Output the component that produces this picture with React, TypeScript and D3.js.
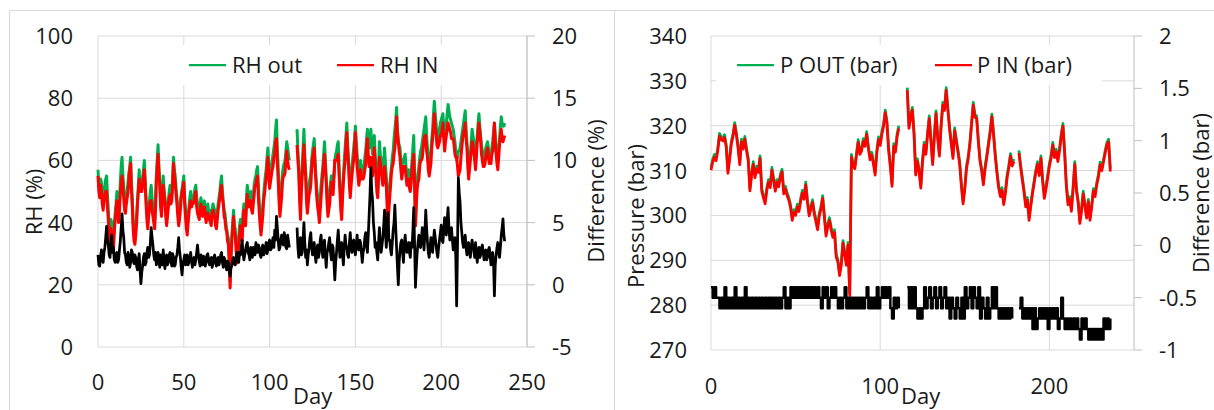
import React from "react";
import * as d3 from "d3";

// ---------- Left panel data: two readings per day (A at day, B at day + 0.5) ----------
const rhOut: (number | null)[] = [
  57,50,53,46,52,55,44,36,40,34,
  43,50,42,53,61,52,45,50,56,61,
  48,36,38,47,57,50,54,60,48,41,
  47,52,45,40,55,65,53,44,55,48,
  41,47,52,49,61,55,48,43,46,51,
  55,44,38,45,50,47,49,52,46,43,
  48,44,47,42,46,44,41,46,44,40,
  46,50,55,47,43,38,35,21,36,44,
  38,30,35,41,38,46,42,52,47,50,
  45,52,55,58,46,38,45,52,57,64,
  55,58,62,66,73,58,45,52,58,60,
  66,62,null,null,null,null,70,58,45,58,
  70,57,45,52,56,63,67,55,48,43,
  52,58,66,54,45,50,55,52,60,63,
  66,52,44,55,64,72,60,52,58,64,
  71,62,55,60,56,58,63,70,64,70,
  62,68,58,50,66,60,56,64,55,44,
  52,58,63,70,77,66,64,58,60,62,
  55,57,52,60,68,39,54,58,63,66,
  70,74,64,57,63,70,79,72,66,70,
  73,75,68,72,78,74,72,70,66,60,
  63,64,68,72,76,66,57,62,70,66,
  60,68,75,68,63,60,64,66,62,61,
  66,72,64,60,67,74,71,72,
];
const rhOutB: (number | null)[] = [
  52,54,48,50,54,49,39,41,35,39,
  46,45,47,58,55,47,48,53,58,53,
  40,35,42,52,52,51,57,54,44,44,
  50,48,42,47,60,58,47,50,51,44,
  44,50,48,55,57,51,45,44,49,53,
  48,40,42,48,47,48,51,48,44,46,
  45,46,44,45,43,42,44,45,41,43,
  48,53,50,44,40,36,28,30,40,39,
  33,32,39,39,43,44,48,49,49,47,
  49,54,57,51,41,42,49,55,61,59,
  56,60,64,70,64,50,49,56,59,63,
  64,60,null,null,null,null,63,50,52,64,
  62,50,48,54,60,65,60,51,45,48,
  55,62,60,49,47,53,54,56,62,65,
  58,47,50,60,68,65,55,55,61,67,
  66,58,58,57,57,61,67,66,67,65,
  65,62,53,58,62,57,60,59,49,48,
  55,61,67,73,70,65,60,59,61,58,
  56,54,56,64,55,47,56,61,64,68,
  72,68,60,60,67,75,75,68,68,72,
  74,71,70,75,76,73,71,68,63,61,
  63,66,70,74,70,61,60,66,68,62,
  64,72,71,65,61,62,65,64,61,64,
  69,68,62,64,71,72,71,null,
];

const rhIn: (number | null)[] = [
  55,48,50,44,49,50,41,34,36,31,
  41,47,40,49,55,48,43,48,54,59,
  45,34,36,46,54,50,52,57,46,38,
  45,47,42,38,53,62,52,42,52,47,
  39,45,49,47,59,53,46,39,44,50,
  53,42,36,43,47,46,47,50,43,41,
  46,42,45,40,43,42,39,44,42,38,
  44,48,52,46,41,37,33,19,34,42,
  36,27,33,39,34,44,39,49,45,47,
  43,49,52,55,43,36,42,49,54,61,
  51,55,58,62,67,54,42,48,55,56,
  63,58,null,null,null,null,65,56,41,55,
  65,55,43,49,52,61,64,53,45,40,
  48,56,62,53,42,46,53,49,60,60,
  62,50,41,53,60,69,58,48,55,60,
  69,58,52,57,54,55,59,67,58,61,
  55,64,55,48,61,57,52,58,52,38,
  48,56,59,64,74,66,61,54,58,58,
  52,54,50,57,62,39,51,54,60,61,
  67,68,61,55,59,67,75,69,64,66,
  68,72,63,68,72,70,67,67,62,61,
  55,57,64,69,72,64,54,60,66,63,
  57,66,72,66,60,58,61,64,59,59,
  63,72,62,57,65,70,66,68,
];
const rhInB: (number | null)[] = [
  50,52,46,47,50,45,37,38,32,37,
  44,43,44,53,51,44,46,50,57,50,
  38,33,40,50,51,50,55,52,41,42,
  47,44,40,44,58,56,45,48,49,42,
  42,48,46,52,55,49,42,41,48,51,
  46,38,40,46,45,46,49,45,42,44,
  43,44,42,43,41,40,43,43,39,41,
  46,51,48,42,38,34,27,29,38,37,
  31,30,36,36,40,42,45,46,47,44,
  46,52,54,48,39,39,47,52,58,56,
  53,57,61,66,59,47,45,53,55,60,
  60,57,null,null,null,null,60,47,50,60,
  59,47,46,50,57,62,58,48,43,44,
  52,59,58,46,44,50,51,54,60,61,
  55,44,48,57,65,63,52,52,58,64,
  63,55,54,54,54,57,64,62,60,57,
  60,59,50,55,59,54,55,55,45,44,
  52,58,62,68,69,63,57,56,58,55,
  53,51,53,60,52,46,53,58,60,64,
  68,63,57,57,64,71,71,65,65,68,
  70,67,66,70,71,69,67,65,61,58,
  56,61,67,70,67,58,57,63,65,60,
  61,69,69,62,58,59,63,61,59,62,
  67,66,59,61,68,67,67,null,
];

const rhDiff: (number | null)[] = [
  2.4,1.5,2.8,1.8,3.0,4.7,3.2,2.2,4.0,3.0,
  1.8,2.6,2.0,3.5,5.7,3.8,2.4,1.6,2.2,1.8,
  2.6,1.7,2.2,1.2,2.5,0.1,1.5,2.5,1.8,3.0,
  2.4,4.6,3.2,2.0,1.6,2.6,1.4,2.2,2.8,1.3,
  2.4,1.8,2.6,1.5,2.2,1.6,2.4,3.8,2.2,0.8,
  2.0,1.6,2.4,1.8,2.6,1.4,2.2,2.0,3.2,1.9,
  2.4,1.6,2.2,1.8,2.5,1.6,2.2,1.7,2.4,1.5,
  2.2,1.9,2.6,1.4,2.0,1.2,1.8,0.7,1.5,2.2,
  1.6,2.6,1.8,2.4,3.6,2.0,2.8,3.4,2.4,3.0,
  2.2,2.8,3.4,2.6,3.0,2.2,3.2,2.6,3.4,2.8,
  3.6,2.9,3.8,4.4,5.5,3.6,3.0,4.0,3.2,3.8,
  2.9,3.5,null,null,null,null,4.6,2.2,3.8,2.6,
  5.0,2.2,1.6,3.0,4.2,2.4,3.4,1.8,3.2,2.6,
  4.0,2.2,3.6,1.4,2.8,3.8,2.0,3.0,0.4,2.6,
  4.4,2.2,3.4,1.6,4.0,3.0,2.2,4.2,2.6,3.6,
  2.4,4.0,2.8,3.4,1.8,3.0,4.2,2.6,5.6,9.4,
  6.8,4.2,3.4,2.0,4.6,2.6,3.8,6.0,3.0,5.8,
  3.6,2.4,4.4,6.4,3.0,0.0,2.8,3.6,1.8,4.0,
  2.6,3.4,2.2,3.0,6.2,-0.2,2.6,4.0,3.0,4.6,
  2.8,6.0,3.4,2.2,3.8,2.6,4.4,3.2,2.2,3.6,
  4.8,3.4,5.4,4.0,6.2,3.6,4.6,2.8,3.8,-1.7,
  8.6,6.6,4.2,3.0,4.0,2.4,3.4,2.2,3.6,2.8,
  3.4,1.8,3.0,2.4,3.2,2.0,2.8,2.2,3.0,1.6,
  2.6,-0.9,2.4,3.4,2.2,4.0,5.3,3.5,
];
const rhDiffB: (number | null)[] = [
  1.6,2.2,2.0,2.6,3.8,3.6,2.4,3.4,2.6,2.0,
  2.4,1.8,2.8,4.6,4.4,2.6,1.8,2.6,1.4,2.8,
  1.9,2.4,1.5,2.0,1.2,1.0,2.2,1.6,2.6,2.2,
  3.4,3.8,2.4,2.6,2.2,1.8,2.4,1.6,2.0,2.2,
  1.6,2.4,1.9,2.5,1.5,2.2,3.0,2.8,1.4,1.8,
  2.4,2.0,1.6,2.2,1.9,2.0,1.6,2.6,2.4,1.5,
  1.8,2.3,1.5,2.4,1.9,2.1,1.4,2.2,1.8,2.0,
  1.6,2.4,1.8,2.2,1.5,1.9,1.1,1.4,2.0,1.7,
  2.2,2.0,2.6,3.0,2.6,2.4,3.2,2.6,2.0,2.6,
  3.0,2.4,2.8,3.2,2.4,2.8,2.4,3.0,2.5,3.4,
  2.8,3.4,3.0,3.6,4.6,2.8,3.6,3.4,4.2,3.0,
  4.0,3.0,null,null,null,null,3.0,3.4,2.4,3.6,
  3.4,2.8,2.4,3.8,3.0,3.2,2.4,2.8,2.2,3.6,
  3.0,3.2,2.4,2.6,3.4,2.6,3.2,1.8,1.8,3.6,
  3.2,2.8,2.4,3.0,3.2,2.4,3.4,3.0,3.4,2.8,
  3.2,3.0,3.6,2.6,2.6,3.8,3.2,4.0,7.2,7.6,
  5.0,3.0,2.6,3.4,3.4,3.2,4.8,4.2,4.2,3.6,
  2.8,3.4,5.0,4.6,1.4,1.8,3.4,2.6,3.2,3.0,
  3.2,2.6,3.4,4.4,3.2,1.4,3.4,3.2,3.8,3.6,
  4.2,4.6,2.6,3.0,3.2,3.6,3.8,2.6,3.0,4.2,
  3.6,4.4,4.4,5.2,4.6,4.2,3.6,3.4,2.2,3.0,
  7.4,5.0,3.4,3.6,3.0,2.8,2.6,3.0,3.0,2.2,
  2.6,2.6,2.2,3.0,2.6,2.6,2.0,2.8,2.4,2.4,
  1.8,1.6,3.0,2.6,3.0,4.6,4.0,null,
];

// ---------- Right panel data (one reading per day) ----------
const pOut: (number | null)[] = [
  310.7,312.5,313.6,312.8,315,318.3,317.5,317.2,318,315.8,
  310,313,316.5,318.2,320.7,318.5,315.6,311.9,317,315.4,
  317.6,315,312.8,306.1,309.5,312,309,311,310.2,313.3,
  306,304.5,303.2,306.2,308,306.8,310.7,308.4,306,308,
  307,309.2,310.3,305.4,306.5,305,304,302.4,299.5,301.3,
  300.6,302.5,301.5,303.8,305.6,304.2,307.4,303.5,300.5,302,
  303.5,301,299.2,297.4,300.5,302,304.4,300.2,296,298,
  299.5,297.4,295.7,296.8,291.3,290.2,287.2,289.5,294.4,292,
  289.5,294,282.7,313.6,311.5,311,314,316.9,314.2,315,
  317.1,316,318.7,315.5,313,314.1,312,309.6,314.5,317.5,
  316.2,318.7,320.5,323.5,321,315,311.4,307.1,316,314.7,
  318.2,320,null,null,null,null,328.5,320,322.4,324.1,
  318.6,309.6,312.6,310.3,306.7,312.4,316.3,314.2,318.5,322.2,
  317,311.9,318,323.3,317.6,313.8,320.4,325.2,324,328.5,
  324,319.8,316.5,313.3,319.5,317,314.6,311.9,307,303.2,
  306.4,311,313.2,316.3,320.8,325.2,322.5,322.2,317,312.6,
  310.4,307.4,311,313.5,316.3,319,322.6,318.5,313.8,310,
  306.7,304.8,306.2,303,305.5,309,311.2,313.8,311.6,312.6,
  null,null,314.5,311.3,308.5,305.8,302.5,304,299.5,302.6,
  305.4,307.8,310.2,312,309.5,313.3,308.2,304.4,306.5,309,
  311.6,313.4,316.3,313.5,314.8,312.6,315,318.2,320.5,314.5,
  307.2,303,304.2,301.5,306.4,312,306,303.4,298.8,301.6,
  305.4,302.5,300,303.6,299.5,302.4,306,304.8,307.4,309.2,
  311.9,310.6,312.6,314.5,316.3,317,310.4,
];

const pIn: (number | null)[] = [
  310.1,311.9,313.0,312.2,314.4,317.7,316.9,316.6,317.4,315.2,
  309.4,312.4,315.9,317.6,320.1,317.9,315.0,311.3,316.4,314.8,
  317.0,314.4,312.2,305.5,308.9,311.4,308.4,310.4,309.6,312.7,
  305.4,303.9,302.6,305.6,307.4,306.2,310.1,307.8,305.4,307.4,
  306.4,308.6,309.7,304.8,305.9,304.4,303.4,301.8,298.9,300.7,
  300.0,301.9,300.9,303.2,305.0,303.6,306.8,302.9,299.9,301.4,
  302.9,300.4,298.6,296.8,299.9,301.4,303.8,299.6,295.4,297.4,
  298.9,296.8,295.1,296.2,290.7,289.6,286.6,288.9,293.8,291.4,
  288.9,293.4,282.1,313.0,310.9,310.4,313.4,316.3,313.6,314.4,
  316.5,315.4,318.1,314.9,312.4,313.5,311.4,309.0,313.9,316.9,
  315.6,318.1,319.9,322.9,320.4,314.4,310.8,306.5,315.4,314.1,
  317.6,319.4,null,null,null,null,327.9,319.4,321.8,323.5,
  318.0,309.0,312.0,309.7,306.1,311.8,315.7,313.6,317.9,321.6,
  316.4,311.3,317.4,322.7,317.0,313.2,319.8,324.6,323.4,327.9,
  323.4,319.2,315.9,312.7,318.9,316.4,314.0,311.3,306.4,302.6,
  305.8,310.4,312.6,315.7,320.2,324.6,321.9,321.6,316.4,312.0,
  309.8,306.8,310.4,312.9,315.7,318.4,322.0,317.9,313.2,309.4,
  306.1,304.2,305.6,302.4,304.9,308.4,310.6,313.2,311.0,312.0,
  null,null,313.9,310.7,307.9,305.2,301.9,303.4,298.9,302.0,
  304.8,307.2,309.6,311.4,308.9,312.7,307.6,303.8,305.9,308.4,
  311.0,312.8,315.7,312.9,314.2,312.0,314.4,317.6,319.9,313.9,
  306.6,302.4,303.6,300.9,305.8,311.4,305.4,302.8,298.2,301.0,
  304.8,301.9,299.4,303.0,298.9,301.8,305.4,304.2,306.8,308.6,
  311.3,310.0,312.0,313.9,315.7,316.4,309.8,
];

const pDiff: (number | null)[] = [
  -0.4,-0.5,-0.4,-0.5,-0.5,-0.6,-0.5,-0.6,-0.4,-0.6,
  -0.5,-0.6,-0.5,-0.6,-0.4,-0.6,-0.5,-0.6,-0.5,-0.6,
  -0.4,-0.6,-0.5,-0.6,-0.5,-0.6,-0.5,-0.6,-0.5,-0.6,
  -0.5,-0.6,-0.5,-0.6,-0.5,-0.6,-0.5,-0.6,-0.5,-0.6,
  -0.5,-0.6,-0.5,-0.4,-0.6,-0.5,-0.6,-0.4,-0.5,-0.4,
  -0.5,-0.4,-0.5,-0.4,-0.5,-0.4,-0.5,-0.4,-0.5,-0.4,
  -0.5,-0.4,-0.5,-0.4,-0.5,-0.6,-0.4,-0.5,-0.4,-0.6,
  -0.5,-0.4,-0.5,-0.4,-0.5,-0.6,-0.5,-0.6,-0.5,-0.4,
  -0.6,-0.5,-0.6,-0.5,-0.6,-0.5,-0.6,-0.5,-0.6,-0.5,
  -0.6,-0.5,-0.4,-0.6,-0.5,-0.6,-0.5,-0.6,-0.4,-0.6,
  -0.5,-0.4,-0.5,-0.4,-0.5,-0.4,-0.6,-0.7,-0.5,-0.6,
  -0.5,-0.6,null,null,null,null,-0.4,-0.6,-0.4,-0.6,
  -0.4,-0.6,-0.7,-0.6,-0.7,-0.6,-0.4,-0.6,-0.5,-0.4,
  -0.6,-0.5,-0.4,-0.6,-0.5,-0.4,-0.6,-0.5,-0.4,-0.6,
  -0.5,-0.7,-0.5,-0.6,-0.7,-0.5,-0.6,-0.7,-0.5,-0.7,
  -0.4,-0.6,-0.5,-0.4,-0.6,-0.4,-0.5,-0.6,-0.4,-0.7,
  -0.5,-0.6,-0.7,-0.5,-0.7,-0.6,-0.4,-0.6,-0.4,-0.6,
  -0.7,-0.6,-0.7,-0.6,-0.7,-0.6,-0.7,-0.6,-0.7,null,
  null,null,-0.6,-0.5,-0.7,-0.6,-0.7,-0.6,-0.7,-0.6,
  -0.8,-0.6,-0.8,-0.7,-0.6,-0.7,-0.6,-0.7,-0.6,-0.8,
  -0.6,-0.7,-0.6,-0.7,-0.6,-0.8,-0.7,-0.5,-0.7,-0.8,
  -0.7,-0.8,-0.7,-0.8,-0.7,-0.8,-0.7,-0.8,-0.9,-0.7,
  -0.8,-0.7,-0.8,-0.9,-0.8,-0.9,-0.8,-0.9,-0.8,-0.9,
  -0.8,-0.9,-0.7,-0.8,-0.7,-0.8,-0.7,
];

// ---------- Axis ticks ----------
const leftXTicks = [0, 50, 100, 150, 200, 250];
const leftYTicks = [0, 20, 40, 60, 80, 100];
const leftY2Ticks = [-5, 0, 5, 10, 15, 20];
const rightXTicks = [0, 100, 200];
const rightYTicks = [270, 280, 290, 300, 310, 320, 330, 340];
const rightY2Ticks = [-1, -0.5, 0, 0.5, 1, 1.5, 2];

const GREEN = "#00b050";
const RED = "#ff0000";
const GRID = "#d9d9d9";
const AXIS = "#bfbfbf";
const TXT = "#1a1a1a";
const FONT = 22;

type Series = (number | null)[];
type Pt = [number, number | null];

// A reading at day i, optional B reading at day i + 0.5
function toPoints(a: Series, b?: Series): Pt[] {
  const out: Pt[] = [];
  a.forEach((v, i) => {
    out.push([i, v]);
    if (b) out.push([i + 0.5, b[i] ?? null]);
  });
  return out;
}

function pathFor(
  pts: Pt[],
  x: d3.ScaleLinear<number, number>,
  y: d3.ScaleLinear<number, number>,
  step = false
) {
  const gen = d3
    .line<Pt>()
    .defined((d) => d[1] !== null)
    .x((d) => x(d[0]))
    .y((d) => y(d[1] as number));
  if (step) gen.curve(d3.curveStepAfter);
  return gen(pts) || "";
}

interface PanelProps {
  xr: [number, number];
  yr: [number, number];
  xDomain: [number, number];
  yDomain: [number, number];
  y2Domain: [number, number];
  xTicks: number[];
  yTicks: number[];
  y2Ticks: number[];
  s1: Pt[];
  s2: Pt[];
  s3: Pt[];
  step: boolean;
  lw: number;
  lw3: number;
  yLabelX: number;
  y2LabelX: number;
  xLabelBase: number;
  yTitle: string;
  yTitlePos: [number, number];
  y2Title: string;
  y2TitlePos: [number, number];
  dayX: number;
  legendRect: [number, number, number, number];
  leg1: [number, number, string];
  leg2: [number, number, string];
}

function Panel(p: PanelProps) {
  const x = d3.scaleLinear().domain(p.xDomain).range(p.xr);
  const y = d3.scaleLinear().domain(p.yDomain).range(p.yr);
  const y2 = d3.scaleLinear().domain(p.y2Domain).range(p.yr);
  const [x0, x1] = p.xr;
  const [yb, yt] = p.yr;
  const [lx, ly, lw, lh] = p.legendRect;
  const legY = 65;
  return (
    <g>
      {p.yTicks.map((t) => (
        <line key={"hg" + t} x1={x0} x2={x1} y1={y(t)} y2={y(t)} stroke={GRID} strokeWidth={1} />
      ))}
      {p.xTicks.map((t) => (
        <line key={"vg" + t} x1={x(t)} x2={x(t)} y1={yt} y2={yb} stroke={GRID} strokeWidth={1} />
      ))}
      <line x1={x1} x2={x1} y1={yt} y2={yb} stroke={AXIS} strokeWidth={1} />
      {p.y2Ticks.map((t) => (
        <line key={"t2" + t} x1={x1} x2={x1 + 8} y1={y2(t)} y2={y2(t)} stroke={AXIS} strokeWidth={1} />
      ))}
      <rect x={lx} y={ly} width={lw} height={lh} fill="#fff" />
      <path d={pathFor(p.s1, x, y)} fill="none" stroke={GREEN} strokeWidth={p.lw} strokeLinejoin="round" />
      <path d={pathFor(p.s2, x, y)} fill="none" stroke={RED} strokeWidth={p.lw} strokeLinejoin="round" />
      <path d={pathFor(p.s3, x, y2, p.step)} fill="none" stroke="#000" strokeWidth={p.lw3} strokeLinejoin="round" />
      {p.yTicks.map((t) => (
        <text key={"yl" + t} x={p.yLabelX} y={y(t) + 8} textAnchor="end" fontSize={FONT} fill={TXT}>
          {t}
        </text>
      ))}
      {p.y2Ticks.map((t) => (
        <text key={"y2l" + t} x={p.y2LabelX} y={y2(t) + 8} textAnchor="start" fontSize={FONT} fill={TXT}>
          {String(t)}
        </text>
      ))}
      {p.xTicks.map((t) => (
        <text key={"xl" + t} x={x(t)} y={p.xLabelBase} textAnchor="middle" fontSize={FONT} fill={TXT}>
          {t}
        </text>
      ))}
      <text x={p.dayX} y={404} fontSize={FONT} fill={TXT}>
        Day
      </text>
      <text
        transform={`translate(${p.yTitlePos[0]},${p.yTitlePos[1]}) rotate(-90)`}
        textAnchor="middle"
        dominantBaseline="central"
        fontSize={FONT}
        fill={TXT}
      >
        {p.yTitle}
      </text>
      <text
        transform={`translate(${p.y2TitlePos[0]},${p.y2TitlePos[1]}) rotate(-90)`}
        textAnchor="middle"
        dominantBaseline="central"
        fontSize={FONT}
        fill={TXT}
      >
        {p.y2Title}
      </text>
      <line x1={p.leg1[0]} x2={p.leg1[0] + 37} y1={legY} y2={legY} stroke={GREEN} strokeWidth={2.25} />
      <text x={p.leg1[1]} y={73} fontSize={FONT} fill={TXT}>
        {p.leg1[2]}
      </text>
      <line x1={p.leg2[0]} x2={p.leg2[0] + 37} y1={legY} y2={legY} stroke={RED} strokeWidth={2.25} />
      <text x={p.leg2[1]} y={73} fontSize={FONT} fill={TXT}>
        {p.leg2[2]}
      </text>
    </g>
  );
}

export default function App() {
  return (
    <svg
      width={1214}
      height={410}
      style={{ position: "absolute", left: 0, top: 0, background: "#fff" }}
      fontFamily="'Open Sans', 'Noto Sans', sans-serif"
    >
      <rect x={0} y={0} width={1214} height={410} fill="#fff" />
      <path d="M9.5,420 V10.5 H1214" fill="none" stroke={GRID} />
      <line x1={614.5} x2={614.5} y1={10.5} y2={410} stroke={GRID} />
      <Panel
        xr={[98, 527]}
        yr={[347, 36]}
        xDomain={[0, 250]}
        yDomain={[0, 100]}
        y2Domain={[-5, 20]}
        xTicks={leftXTicks}
        yTicks={leftYTicks}
        y2Ticks={leftY2Ticks}
        s1={toPoints(rhOut, rhOutB)}
        s2={toPoints(rhIn, rhInB)}
        s3={toPoints(rhDiff, rhDiffB)}
        step={false}
        lw={3}
        lw3={2.75}
        yLabelX={73}
        y2LabelX={552}
        xLabelBase={390}
        yTitle="RH (%)"
        yTitlePos={[33, 202]}
        y2Title="Difference (%)"
        y2TitlePos={[595, 191]}
        dayX={293}
        legendRect={[170, 45, 285, 40]}
        leg1={[189, 232, "RH out"]}
        leg2={[337, 380, "RH IN"]}
      />
      <Panel
        xr={[711, 1134]}
        yr={[350, 36]}
        xDomain={[0, 250]}
        yDomain={[270, 340]}
        y2Domain={[-1, 2]}
        xTicks={rightXTicks}
        yTicks={rightYTicks}
        y2Ticks={rightY2Ticks}
        s1={toPoints(pOut)}
        s2={toPoints(pIn)}
        s3={toPoints(pDiff)}
        step={true}
        lw={2.75}
        lw3={2.5}
        yLabelX={687}
        y2LabelX={1159}
        xLabelBase={394}
        yTitle="Pressure (bar)"
        yTitlePos={[635, 216]}
        y2Title="Difference (bar)"
        y2TitlePos={[1200, 193]}
        dayX={901}
        legendRect={[716, 45, 386, 40]}
        leg1={[737, 780, "P OUT (bar)"]}
        leg2={[935, 977, "P IN (bar)"]}
      />
    </svg>
  );
}
